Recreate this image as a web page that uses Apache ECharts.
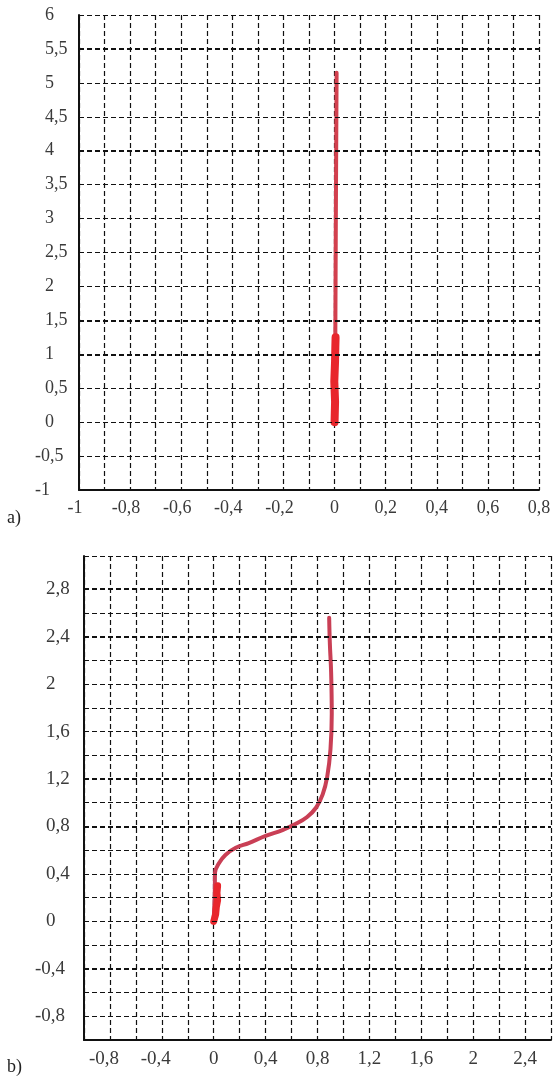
<!DOCTYPE html>
<html>
<head>
<meta charset="utf-8">
<script src="https://cdn.jsdelivr.net/npm/echarts@6/dist/echarts.min.js"></script>
<style>
html, body { margin: 0; padding: 0; background: #fff; }
#main { width: 554px; height: 1079px; }
</style>
</head>
<body>
<div id="main"></div>
<script>
// panel a) - trajectory, almost straight up along x = 0
var trackA = [[0.002, 0], [0.003, 1.25], [0.005, 3], [0.008, 5.15]];
var blobA = [[0.000, 0], [0.002, 0.3], [-0.001, 0.6], [0.002, 0.9], [0.003, 1.1], [0.004, 1.25]];
var gridA = [-0.5, 0, 0.5, 1, 1.5, 2, 2.5, 3, 3.5, 4, 4.5, 5, 5.5, 6];
var boldA = [5.5, 4, 1.5, 1];

// panel b) - S-shaped trajectory
var trackB = [[0, 0.02], [0.008, 0.24], [0.01, 0.41], [0.04, 0.49], [0.09, 0.56], [0.17, 0.62],
	[0.27, 0.66], [0.40, 0.72], [0.53, 0.77], [0.63, 0.82], [0.72, 0.88], [0.79, 0.96],
	[0.84, 1.07], [0.875, 1.22], [0.9, 1.45], [0.91, 1.75], [0.905, 2.1], [0.895, 2.35], [0.89, 2.56]];
var blobB = [[0, 0], [0.015, 0.06], [0.02, 0.12], [0.03, 0.18], [0.025, 0.24], [0.03, 0.3]];
var gridB = [-0.8, -0.6, -0.4, -0.2, 0, 0.2, 0.4, 0.6, 0.8, 1, 1.2, 1.4, 1.6, 1.8, 2, 2.2, 2.4, 2.6, 2.8, 3.08];
var boldB = [2.8, 2.4, 1.2, 0.8, -0.4];

var FONT = 'Liberation Serif';
var dash = [5, 3];

function fmt(v) {
	return String(+v.toFixed(1)).replace('.', ',');
}

function hLines(vals, bold) {
	return vals.map(function(v) {
		var b = bold.indexOf(v) >= 0;
		return {
			yAxis: v,
			lineStyle: { type: dash, color: '#111', width: b ? 2.2 : 1.2 }
		};
	});
}

function gridSeries(idx, vals, bold) {
	return {
		type: 'line',
		xAxisIndex: idx,
		yAxisIndex: idx,
		data: [],
		silent: true,
		z: 1,
		markLine: {
			silent: true,
			symbol: 'none',
			animation: false,
			label: { show: false },
			lineStyle: { type: dash, color: '#111', width: 1.2 },
			data: hLines(vals, bold)
		}
	};
}

var chart = echarts.init(document.getElementById('main'));
var option = {
	animation: false,
	backgroundColor: '#fff',
	grid: [
		{ left: 79, top: 15, width: 460, height: 475 },
		{ left: 84, top: 556, width: 468, height: 484 }
	],
	xAxis: [{
		gridIndex: 0,
		type: 'value',
		min: -1,
		max: 0.8,
		interval: 0.1,
		axisLine: { onZero: false, lineStyle: { color: '#111', width: 2 } },
		axisTick: { show: false },
		splitLine: { lineStyle: { type: dash, color: '#111', width: 1.2 } },
		axisLabel: {
			margin: 9,
			fontFamily: FONT,
			fontSize: 18,
			color: '#3a3a3a',
			formatter: function(v) {
				if (Math.abs(Math.round(v * 10)) % 2 !== 0) return '';
				return v < 0 ? '{n|' + fmt(v) + '}' : fmt(v);
			},
			rich: { n: { padding: [0, 8, 0, 0] } }
		}
	}, {
		gridIndex: 1,
		type: 'value',
		min: -1,
		max: 2.6,
		interval: 0.2,
		axisLine: { onZero: false, lineStyle: { color: '#111', width: 2 } },
		axisTick: { show: false },
		splitLine: { lineStyle: { type: dash, color: '#111', width: 1.2 } },
		axisLabel: {
			margin: 10,
			fontFamily: FONT,
			fontSize: 19,
			color: '#3a3a3a',
			formatter: function(v) {
				if (Math.abs(Math.round(v * 10)) % 4 !== 0) return '';
				return v < 0 ? '{n|' + fmt(v) + '}' : fmt(v);
			},
			rich: { n: { padding: [0, 12, 0, 0] } }
		}
	}],
	yAxis: [{
		gridIndex: 0,
		type: 'value',
		min: -1,
		max: 6,
		interval: 0.5,
		axisLine: { show: true, onZero: false, lineStyle: { color: '#111', width: 2 } },
		axisTick: { show: false },
		splitLine: { show: false },
		axisLabel: {
			align: 'left',
			margin: 44,
			fontFamily: FONT,
			fontSize: 18,
			color: '#3a3a3a',
			formatter: function(v) {
				return v < 0 ? fmt(v) : '{p|' + fmt(v) + '}';
			},
			rich: { p: { padding: [0, 0, 0, 10] } }
		}
	}, {
		gridIndex: 1,
		type: 'value',
		min: -1,
		max: 3.08,
		interval: 0.2,
		axisLine: { show: true, onZero: false, lineStyle: { color: '#111', width: 2 } },
		axisTick: { show: false },
		splitLine: { show: false },
		axisLabel: {
			align: 'left',
			margin: 49,
			fontFamily: FONT,
			fontSize: 19,
			color: '#3a3a3a',
			formatter: function(v) {
				if (Math.abs(Math.round(v * 10)) % 4 !== 0) return '';
				return v < 0 ? fmt(v) : '{p|' + fmt(v) + '}';
			},
			rich: { p: { padding: [0, 0, 0, 11] } }
		}
	}],
	graphic: [
		{ type: 'text', left: 7, top: 509, style: { text: 'a)', font: '18px "Liberation Serif"', fill: '#222' } },
		{ type: 'text', left: 7, top: 1058, style: { text: 'b)', font: '18px "Liberation Serif"', fill: '#222' } }
	],
	series: [
		gridSeries(0, gridA, boldA),
		gridSeries(1, gridB, boldB),
		{
			type: 'line',
			xAxisIndex: 0,
			yAxisIndex: 0,
			data: trackA,
			showSymbol: false,
			z: 3,
			lineStyle: { color: '#d2404e', width: 4, cap: 'round' }
		}, {
			type: 'line',
			xAxisIndex: 0,
			yAxisIndex: 0,
			data: blobA,
			showSymbol: false,
			z: 4,
			lineStyle: { color: '#e8262c', width: 8, cap: 'round' }
		}, {
			type: 'line',
			xAxisIndex: 1,
			yAxisIndex: 1,
			data: trackB,
			smooth: 0.4,
			showSymbol: false,
			z: 3,
			lineStyle: { color: '#c93f55', width: 4, cap: 'round' }
		}, {
			type: 'line',
			xAxisIndex: 1,
			yAxisIndex: 1,
			data: blobB,
			showSymbol: false,
			z: 4,
			lineStyle: { color: '#e8262c', width: 7, cap: 'round' }
		}
	]
};
chart.setOption(option);
</script>
</body>
</html>
